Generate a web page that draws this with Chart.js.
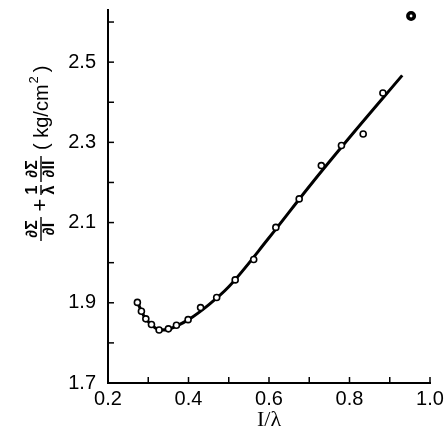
<!DOCTYPE html>
<html>
<head>
<meta charset="utf-8">
<script src="https://cdn.jsdelivr.net/npm/chart.js@4/dist/chart.umd.min.js"></script>
<style>
  body { margin: 0; background: #fff; }
  canvas { display: block; }
</style>
</head>
<body>
<canvas id="stressChart" width="446" height="432"></canvas>
<script>
// measured points (open circles)
var ratioX = [0.273, 0.283, 0.294, 0.308, 0.327, 0.350, 0.370, 0.399, 0.430, 0.470, 0.516, 0.562, 0.617, 0.675, 0.730, 0.780, 0.834, 0.883];
var stressY = [1.901, 1.879, 1.860, 1.846, 1.832, 1.835, 1.844, 1.858, 1.888, 1.913, 1.957, 2.008, 2.088, 2.159, 2.242, 2.292, 2.321, 2.423];
// the odd point top right (filled)
var outlierX = [0.953];
var outlierY = [2.615];
// smooth curve drawn through the data
var curveX = [0.275, 0.290, 0.310, 0.330, 0.350, 0.370, 0.400, 0.450, 0.500, 0.600, 0.700, 0.800, 0.931];
var curveY = [1.897, 1.866, 1.843, 1.832, 1.834, 1.842, 1.858, 1.895, 1.940, 2.062, 2.190, 2.312, 2.467];
// axis ticks
var xTickLabels = ["0.2", "0.4", "0.6", "0.8", "1.0"];
var yTickLabels = ["1.7", "1.9", "2.1", "2.3", "2.5"];

function toPts(xs, ys) {
  return xs.map(function (v, i) { return { x: v, y: ys[i] }; });
}

var tickFont = { family: "'Liberation Sans', Arial, sans-serif", size: 20 };

// inward tick marks + axis titles
var decor = {
  id: 'decor',
  afterDraw: function (chart) {
    var ctx = chart.ctx, a = chart.chartArea;
    var xs = chart.scales.x, ys = chart.scales.y;
    ctx.save();
    ctx.strokeStyle = '#000';
    ctx.lineWidth = 1.5;
    xs.ticks.forEach(function (t) {
      var px = xs.getPixelForValue(t.value);
      ctx.beginPath(); ctx.moveTo(px, a.bottom); ctx.lineTo(px, a.bottom - 6); ctx.stroke();
    });
    ys.ticks.forEach(function (t) {
      var py = ys.getPixelForValue(t.value);
      ctx.beginPath(); ctx.moveTo(a.left, py); ctx.lineTo(a.left + 6, py); ctx.stroke();
    });

    // x title
    ctx.fillStyle = '#000';
    ctx.font = "22px 'Liberation Serif', serif";
    ctx.textAlign = 'center';
    ctx.textBaseline = 'middle';
    ctx.fillText('I/\u03bb', (a.left + a.right) / 2, 420);

    // y title, rotated
    ctx.translate(41, 241);
    ctx.rotate(-Math.PI / 2);
    var fracFont = "bold 16px 'Liberation Sans', sans-serif";
    function frac(x0, num, den, w) {
      var cx = x0 + w / 2;
      ctx.font = fracFont;
      ctx.fillText(num, cx, -8);
      ctx.fillText(den, cx, 9);
      ctx.beginPath(); ctx.moveTo(x0, 0); ctx.lineTo(x0 + w, 0); ctx.lineWidth = 1.4; ctx.stroke();
    }
    frac(0, '\u2202\u03a3', '\u2202I', 24);
    ctx.font = "22px 'Liberation Sans', sans-serif";
    ctx.fillText('+', 36, 0);
    frac(46, '1', '\u03bb', 10);
    frac(59, '\u2202\u03a3', '\u2202II', 26);
    ctx.textAlign = 'left';
    ctx.font = "20px 'Liberation Sans', sans-serif";
    var x = 91;
    ctx.fillText('( kg/cm', x, 1);
    x += ctx.measureText('( kg/cm').width;
    ctx.font = "13px 'Liberation Sans', sans-serif";
    ctx.fillText('2', x + 1, -7);
    x += ctx.measureText('2').width + 5;
    ctx.font = "20px 'Liberation Sans', sans-serif";
    ctx.fillText(')', x, 1);
    ctx.restore();
  }
};

new Chart(document.getElementById('stressChart'), {
  type: 'scatter',
  data: {
    datasets: [
      {
        data: toPts(ratioX, stressY),
        pointRadius: 3,
        pointBorderWidth: 1.6,
        pointBorderColor: '#000',
        pointBackgroundColor: '#fff',
        order: 0
      },
      {
        data: toPts(outlierX, outlierY),
        pointRadius: 3.2,
        pointBorderWidth: 3.6,
        pointBorderColor: '#000',
        pointBackgroundColor: '#fff',
        order: 0
      },
      {
        data: toPts(curveX, curveY),
        showLine: true,
        borderColor: '#000',
        borderWidth: 3,
        pointRadius: 0,
        cubicInterpolationMode: 'monotone',
        order: 1
      }
    ]
  },
  options: {
    responsive: false,
    animation: false,
    layout: { padding: { left: 0, right: 16, top: 10, bottom: 0 } },
    plugins: { legend: { display: false }, tooltip: { enabled: false } },
    scales: {
      x: {
        type: 'linear',
        min: 0.2,
        max: 1.0,
        afterFit: function (s) { s.height = 49; s.paddingLeft = 0; s.paddingRight = 0; },
        grid: { display: false, drawTicks: false },
        border: { display: true, color: '#000', width: 2 },
        ticks: {
          stepSize: 0.1,
          autoSkip: false,
          maxRotation: 0,
          padding: 4,
          color: '#000',
          font: tickFont,
          callback: function (v) {
            var s = (Math.round(v * 10) / 10).toFixed(1);
            return xTickLabels.indexOf(s) >= 0 ? s : '';
          }
        }
      },
      y: {
        type: 'linear',
        min: 1.7,
        max: 2.63,
        afterFit: function (s) { s.width = 108; s.paddingTop = 0; s.paddingBottom = 0; },
        grid: { display: false, drawTicks: false },
        border: { display: true, color: '#000', width: 2 },
        ticks: {
          stepSize: 0.1,
          includeBounds: false,
          autoSkip: false,
          padding: 12,
          color: '#000',
          font: tickFont,
          callback: function (v) {
            var s = (Math.round(v * 10) / 10).toFixed(1);
            return yTickLabels.indexOf(s) >= 0 ? s : '';
          }
        }
      }
    }
  },
  plugins: [decor]
});
</script>
</body>
</html>
